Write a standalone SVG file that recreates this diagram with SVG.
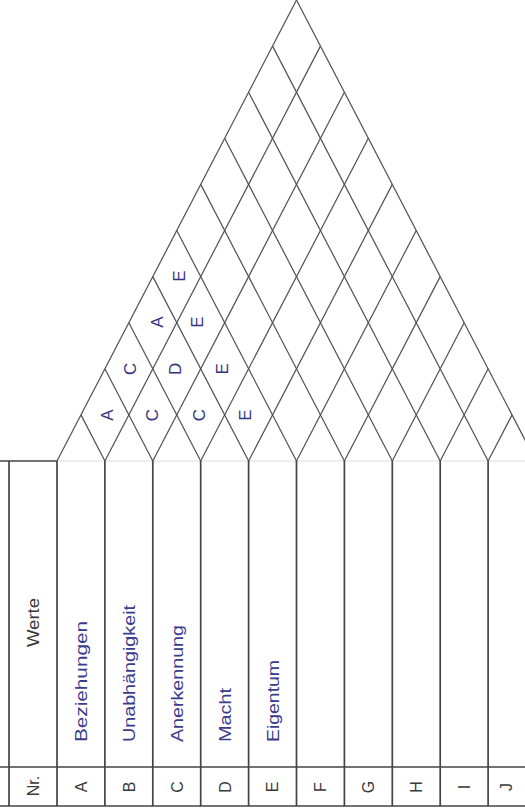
<svg xmlns="http://www.w3.org/2000/svg" width="525" height="810" viewBox="0 0 525 810">
<style>
.tbl{stroke:#444444;stroke-width:1.7;fill:none}
.faint{stroke:#dcdcdc;stroke-width:1;fill:none}
.grid{stroke:#505050;stroke-width:1.2;fill:none}
.hd{font-family:"Liberation Sans",Arial,sans-serif;font-size:16px;fill:#3a3a3a}
.val{font-family:"Liberation Sans",Arial,sans-serif;font-size:16px;fill:#3c3c8c}
.res{font-family:"Liberation Sans",Arial,sans-serif;font-size:17px;fill:#34347e;text-anchor:middle}
.mid{text-anchor:middle}
</style>
<rect width="525" height="810" fill="#ffffff"/>
<g id="connectors">
  <g id="table-lines">
    <line class="tbl" x1="0" y1="461" x2="57" y2="461"/>
    <line class="faint" x1="57" y1="461" x2="525" y2="461"/>
    <line class="tbl" x1="0" y1="767" x2="525" y2="767"/>
    <line class="tbl" x1="0" y1="806" x2="525" y2="806"/>
    <line class="tbl" x1="9" y1="461" x2="9" y2="806"/>
    <line class="tbl" x1="57" y1="461" x2="57" y2="806"/>
    <line class="tbl" x1="104.9" y1="461" x2="104.9" y2="806"/>
    <line class="tbl" x1="152.8" y1="461" x2="152.8" y2="806"/>
    <line class="tbl" x1="200.7" y1="461" x2="200.7" y2="806"/>
    <line class="tbl" x1="248.6" y1="461" x2="248.6" y2="806"/>
    <line class="tbl" x1="296.5" y1="461" x2="296.5" y2="806"/>
    <line class="tbl" x1="344.4" y1="461" x2="344.4" y2="806"/>
    <line class="tbl" x1="392.3" y1="461" x2="392.3" y2="806"/>
    <line class="tbl" x1="440.2" y1="461" x2="440.2" y2="806"/>
    <line class="tbl" x1="488.1" y1="461" x2="488.1" y2="806"/>
  </g>
  <g id="grid-lines">
    <line class="grid" x1="57" y1="461" x2="296.5" y2="0"/>
    <line class="grid" x1="104.9" y1="461" x2="320.45" y2="46.1"/>
    <line class="grid" x1="152.8" y1="461" x2="344.4" y2="92.2"/>
    <line class="grid" x1="200.7" y1="461" x2="368.35" y2="138.3"/>
    <line class="grid" x1="248.6" y1="461" x2="392.3" y2="184.4"/>
    <line class="grid" x1="296.5" y1="461" x2="416.25" y2="230.5"/>
    <line class="grid" x1="344.4" y1="461" x2="440.2" y2="276.6"/>
    <line class="grid" x1="392.3" y1="461" x2="464.15" y2="322.7"/>
    <line class="grid" x1="440.2" y1="461" x2="488.1" y2="368.8"/>
    <line class="grid" x1="488.1" y1="461" x2="512.05" y2="414.9"/>
    <line class="grid" x1="104.9" y1="461" x2="80.95" y2="414.9"/>
    <line class="grid" x1="152.8" y1="461" x2="104.9" y2="368.8"/>
    <line class="grid" x1="200.7" y1="461" x2="128.85" y2="322.7"/>
    <line class="grid" x1="248.6" y1="461" x2="152.8" y2="276.6"/>
    <line class="grid" x1="296.5" y1="461" x2="176.75" y2="230.5"/>
    <line class="grid" x1="344.4" y1="461" x2="200.7" y2="184.4"/>
    <line class="grid" x1="392.3" y1="461" x2="224.65" y2="138.3"/>
    <line class="grid" x1="440.2" y1="461" x2="248.6" y2="92.2"/>
    <line class="grid" x1="488.1" y1="461" x2="272.55" y2="46.1"/>
    <line class="grid" x1="536" y1="461" x2="296.5" y2="0"/>
  </g>
</g>
<g id="header">
  <text class="hd mid" transform="translate(39,622.5) rotate(-90)" textLength="49" lengthAdjust="spacingAndGlyphs">Werte</text>
  <text class="hd mid" transform="translate(38.5,786) rotate(-90)">Nr.</text>
</g>
<g id="row-A">
  <text class="hd mid" transform="translate(86.8,787) rotate(-90)">A</text>
  <text class="val" transform="translate(87,742) rotate(-90)" textLength="121" lengthAdjust="spacingAndGlyphs">Beziehungen</text>
</g>
<g id="row-B">
  <text class="hd mid" transform="translate(134.7,787) rotate(-90)">B</text>
  <text class="val" transform="translate(134.5,742) rotate(-90)" textLength="137" lengthAdjust="spacingAndGlyphs">Unabhängigkeit</text>
</g>
<g id="row-C">
  <text class="hd mid" transform="translate(182.6,787) rotate(-90)">C</text>
  <text class="val" transform="translate(183,742) rotate(-90)" textLength="117" lengthAdjust="spacingAndGlyphs">Anerkennung</text>
</g>
<g id="row-D">
  <text class="hd mid" transform="translate(230.5,787) rotate(-90)">D</text>
  <text class="val" transform="translate(231,742) rotate(-90)" textLength="54" lengthAdjust="spacingAndGlyphs">Macht</text>
</g>
<g id="row-E">
  <text class="hd mid" transform="translate(278.4,787) rotate(-90)">E</text>
  <text class="val" transform="translate(278.5,742) rotate(-90)" textLength="82" lengthAdjust="spacingAndGlyphs">Eigentum</text>
</g>
<g id="row-F"><text class="hd mid" transform="translate(326.3,787) rotate(-90)">F</text></g>
<g id="row-G"><text class="hd mid" transform="translate(374.2,787) rotate(-90)">G</text></g>
<g id="row-H"><text class="hd mid" transform="translate(422.1,787) rotate(-90)">H</text></g>
<g id="row-I"><text class="hd mid" transform="translate(470,787) rotate(-90)">I</text></g>
<g id="row-J"><text class="hd mid" transform="translate(512,787) rotate(-90)">J</text></g>
<g id="results">
  <g id="AB"><text class="res" transform="translate(112.5,415) rotate(-90)">A</text></g>
  <g id="AC"><text class="res" transform="translate(136,368.8) rotate(-90)">C</text></g>
  <g id="AD"><text class="res" transform="translate(162.5,322) rotate(-90)">A</text></g>
  <g id="AE"><text class="res" transform="translate(184.5,276) rotate(-90)">E</text></g>
  <g id="BC"><text class="res" transform="translate(158,415) rotate(-90)">C</text></g>
  <g id="BD"><text class="res" transform="translate(180.5,368.8) rotate(-90)">D</text></g>
  <g id="BE"><text class="res" transform="translate(203,322) rotate(-90)">E</text></g>
  <g id="CD"><text class="res" transform="translate(204.5,415) rotate(-90)">C</text></g>
  <g id="CE"><text class="res" transform="translate(228,368.8) rotate(-90)">E</text></g>
  <g id="DE"><text class="res" transform="translate(251,415) rotate(-90)">E</text></g>
</g>
</svg>
